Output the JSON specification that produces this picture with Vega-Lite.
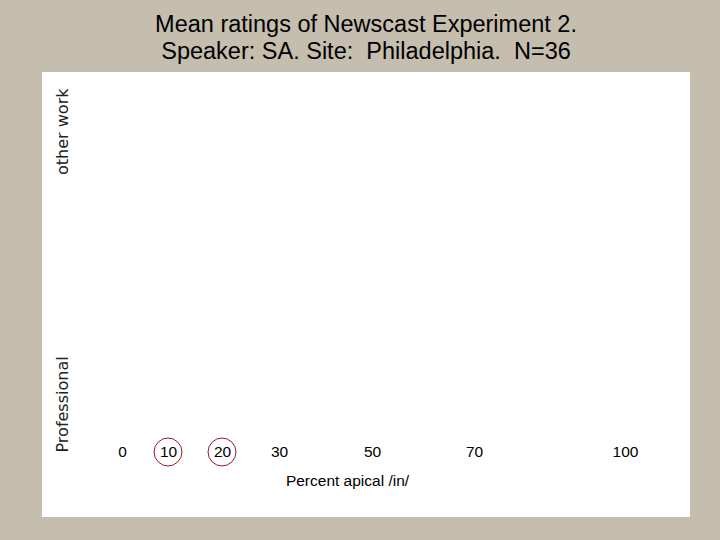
{
  "$schema": "https://vega.github.io/schema/vega-lite/v6.json",
  "width": 648,
  "height": 445,
  "autosize": {"type": "none"},
  "padding": {"left": 42, "top": 72, "right": 30, "bottom": 23},
  "background": "#c5bdae",
  "config": {"font": "Liberation Sans", "view": {"fill": "white", "stroke": null}},
  "title": {
    "text": ["Mean ratings of Newscast Experiment 2.", "Speaker: SA. Site:\u00a0 Philadelphia.\u00a0 N=36"],
    "fontSize": 23.5,
    "fontWeight": "normal",
    "lineHeight": 27,
    "color": "black",
    "anchor": "middle",
    "offset": 9
  },
  "data": {
    "values": [
      {"pct": 10, "rating": 0},
      {"pct": 20, "rating": 0}
    ]
  },
  "mark": {"type": "point", "shape": "circle", "filled": false, "size": 780, "stroke": "#8e1a2c", "strokeWidth": 1, "opacity": 1},
  "encoding": {
    "x": {
      "field": "pct",
      "type": "quantitative",
      "scale": {"domain": [0, 10, 20, 30, 50, 70, 100], "range": [80, 126, 180, 237, 330, 432, 583], "zero": false, "nice": false},
      "axis": {
        "values": [0, 10, 20, 30, 50, 70, 100],
        "offset": -66,
        "domain": false,
        "ticks": false,
        "tickSize": 0,
        "grid": false,
        "labelFlush": false,
        "labelOverlap": false,
        "labelPadding": 0,
        "labelBaseline": "middle",
        "labelFontSize": 15.5,
        "labelColor": "black",
        "labelFont": "Liberation Sans",
        "title": "Percent apical /in/",
        "titleFontSize": 15.5,
        "titleFontWeight": "normal",
        "titleColor": "black",
        "titleX": 305,
        "titleY": 29,
        "titleBaseline": "middle"
      }
    },
    "y": {
      "field": "rating",
      "type": "quantitative",
      "scale": {"domain": [0, 8], "range": [380, 16], "zero": false, "nice": false},
      "axis": {
        "values": [0, 8],
        "labelExpr": "datum.value == 0 ? 'Professional' : 'other work'",
        "offset": -20,
        "domain": false,
        "ticks": false,
        "tickSize": 0,
        "grid": false,
        "labelPadding": 0,
        "labelAngle": -90,
        "labelFont": "DejaVu Sans",
        "labelFontSize": 16,
        "labelColor": "#222222",
        "labelBaseline": "middle",
        "labelAlign": {"condition": {"test": "datum.value == 0", "value": "left"}, "value": "right"},
        "labelOverlap": false,
        "labelBound": false,
        "title": null
      }
    }
  }
}
